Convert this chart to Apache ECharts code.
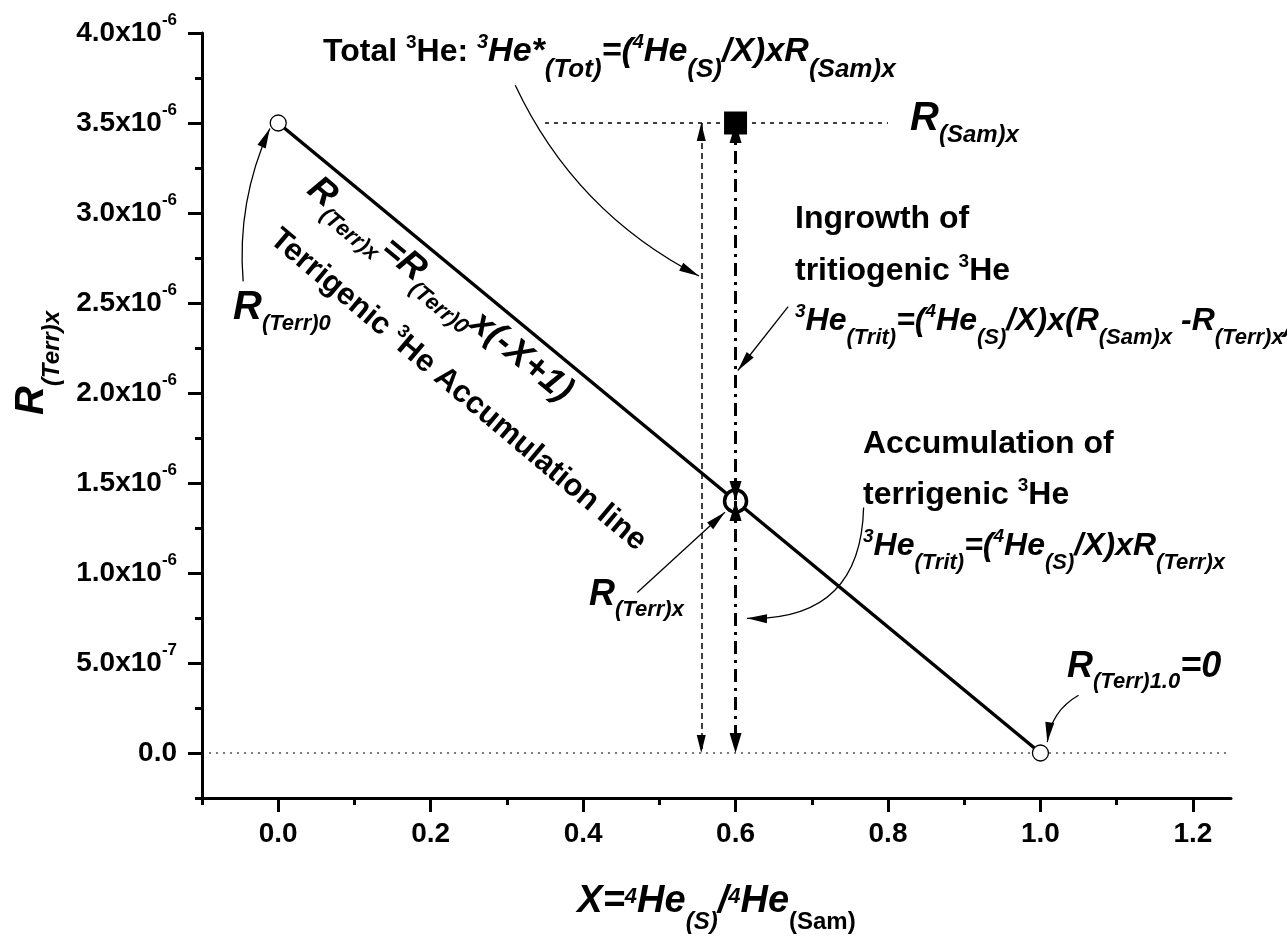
<!DOCTYPE html>
<html>
<head>
<meta charset="utf-8">
<script src="https://cdn.jsdelivr.net/npm/echarts@6/dist/echarts.min.js"></script>
<style>
html, body { margin: 0; padding: 0; background: #fff; }
#main { width: 1287px; height: 944px; }
</style>
</head>
<body>
<div id="main"></div>
<script>
// accumulation line R(Terr)x = R(Terr)0 x (-X+1)
var lineX = [0, 1];
var lineR = [3.5e-6, 0];
// sample point and the terrigenic value at the same X
var sampleX = [0.6];
var sampleR = [3.5e-6];
var terrR = [1.4e-6];
// total 3He guide line and the R(Sam)x dotted guide
var totalX = [0.555];
var guideX = [0.35, 0.8];
var baseX = [-0.1, 1.25];
// ticks
var xMajor = [0, 0.2, 0.4, 0.6, 0.8, 1.0, 1.2];
var xMinor = [-0.1, 0, 0.1, 0.2, 0.3, 0.4, 0.5, 0.6, 0.7, 0.8, 0.9, 1.0, 1.1, 1.2];
var yMajor = [0, 5e-7, 1e-6, 1.5e-6, 2e-6, 2.5e-6, 3e-6, 3.5e-6, 4e-6];
var yMinor = [-2.5e-7, 0, 2.5e-7, 5e-7, 7.5e-7, 1e-6, 1.25e-6, 1.5e-6, 1.75e-6, 2e-6,
              2.25e-6, 2.5e-6, 2.75e-6, 3e-6, 3.25e-6, 3.5e-6, 3.75e-6, 4e-6];

var chart = echarts.init(document.getElementById('main'));
var F = '"Liberation Sans", Arial, Helvetica, sans-serif';

function tok(size, italic, pad) {
    return {
        fontSize: size, fontWeight: 'bold', fontStyle: italic ? 'italic' : 'normal',
        fontFamily: F, color: '#000', fill: '#000', padding: pad || [0, 0, 0, 0]
    };
}

var rich = {
    b: tok(32), bsup: tok(19, false, [0, 0, 18, 0]),
    i: tok(32, true), isup: tok(19, true, [0, 0, 18, 0]), isub: tok(22, true, [34, 0, 0, 0]),
    T: tok(34, true), Tsup: tok(20, true, [0, 0, 19, 0]), Tsub: tok(26, true, [36, 0, 0, 0]),
    R: tok(40, true), Rsub: tok(22, true, [32, 0, 0, 0]), Ssub: tok(24, true, [33, 0, 0, 0]),
    r: tok(36, true), rsub: tok(22, true, [30, 0, 0, 0]),
    t: tok(31), tsup: tok(18, false, [0, 0, 18, 0])
};

// y tick labels like 4.0x10^-6
function fmtY(v) {
    if (Math.abs(v) < 1e-12) return '{m|0.0}';
    var e = Math.floor(Math.log10(Math.abs(v)) + 1e-9);
    var m = v / Math.pow(10, e);
    return '{m|' + m.toFixed(1) + 'x10}{s|' + e + '}';
}

var arrowHead = 'path://M5,0L10,20L0,20Z';
// same head, tip placed at the centre of its box (lines series has no symbolOffset)
var tipHead = 'path://M5,0L5,0.01M5,20L10,40L0,40Z';

function twoWay(from, to, style, size) {
    return [
        {coord: from, symbol: arrowHead, symbolSize: size, symbolOffset: [0, size[1] / 2], lineStyle: style},
        {coord: to, symbol: arrowHead, symbolSize: size, symbolOffset: [0, size[1] / 2]}
    ];
}

function pointer(from, to, curve) {
    return {coords: [from, to], lineStyle: {curveness: curve}};
}

var dashStyle = {type: [6, 4], width: 1.5, color: '#000'};
var dashDotStyle = {type: [13, 6, 3, 6], width: 3, color: '#000'};

function label(x, y, text, rot) {
    return {
        type: 'text', x: x, y: y, rotation: rot || 0, silent: true, z: 10,
        style: {
            text: text, rich: rich, align: 'left', verticalAlign: 'middle',
            fill: '#000', fontSize: 32, fontWeight: 'bold', fontFamily: F
        }
    };
}
function centered(x, y, text, rot) {
    var el = label(x, y, text, rot);
    el.style.align = 'center';
    return el;
}

var axisCommon = {
    type: 'value',
    splitLine: {show: false},
    nameMoveOverlap: false
};

var option = {
    animation: false,
    backgroundColor: '#fff',
    textStyle: {fontFamily: F},
    grid: {left: 202, right: 56, top: 33, bottom: 146, containLabel: false, outerBoundsMode: 'none'},
    xAxis: [
        Object.assign({}, axisCommon, {
            min: -0.1, max: 1.25, position: 'bottom',
            axisLine: {show: true, onZero: false, lineStyle: {color: '#000', width: 3}},
            axisTick: {show: true, length: 7, customValues: xMinor, lineStyle: {color: '#000', width: 3}},
            axisLabel: {
                customValues: xMajor, margin: 22, color: '#000', fontSize: 28, fontWeight: 'bold', fontFamily: F,
                formatter: function (v) { return v.toFixed(1); }
            },
            name: '{X|X=}{xs|4}{X|He}{xb|(S)}{X|/}{xs|4}{X|He}{xbn|(Sam)}',
            nameLocation: 'middle', nameGap: 72,
            nameTextStyle: {
                rich: {
                    X: tok(38, true), xs: tok(22, true, [0, 0, 11, 0]),
                    xb: tok(24, true, [40, 0, 0, 0]), xbn: tok(24, false, [40, 0, 0, 0])
                }
            }
        }),
        Object.assign({}, axisCommon, {
            min: -0.1, max: 1.25, position: 'bottom',
            axisLine: {show: false, onZero: false},
            axisTick: {show: true, length: 14, customValues: xMajor, lineStyle: {color: '#000', width: 3}},
            axisLabel: {show: false}
        })
    ],
    yAxis: [
        Object.assign({}, axisCommon, {
            min: -2.5e-7, max: 4e-6, position: 'left',
            axisLine: {show: true, onZero: false, lineStyle: {color: '#000', width: 3}},
            axisTick: {show: true, length: 7, customValues: yMinor, lineStyle: {color: '#000', width: 3}},
            axisLabel: {
                customValues: yMajor, margin: 25, formatter: fmtY,
                rich: {m: tok(28), s: tok(17, false, [0, 0, 25, 0])}
            },
            name: '{R|R}{Rs|(Terr)x}',
            nameLocation: 'middle', nameRotate: 90, nameGap: 138,
            nameTextStyle: {
                padding: [0, 0, 0, 105],
                rich: {R: tok(40, true), Rs: tok(24, true, [41, 0, 0, 0])}
            }
        }),
        Object.assign({}, axisCommon, {
            min: -2.5e-7, max: 4e-6, position: 'left',
            axisLine: {show: false, onZero: false},
            axisTick: {show: true, length: 14, customValues: yMajor, lineStyle: {color: '#000', width: 3}},
            axisLabel: {show: false}
        })
    ],
    series: [
        {
            type: 'line', name: 'zero', silent: true, symbol: 'none', z: 1,
            data: baseX.map(function (x) { return [x, 0]; }),
            lineStyle: {color: '#000', width: 1.2, type: [2, 5]}
        },
        {
            type: 'line', name: 'R(Sam)x', silent: true, symbol: 'none', z: 1,
            data: guideX.map(function (x) { return [x, sampleR[0]]; }),
            lineStyle: {color: '#000', width: 1.5, type: [4, 5]}
        },
        {
            type: 'line', name: 'accumulation', silent: true, z: 3,
            data: lineX.map(function (x, i) { return [x, lineR[i]]; }),
            lineStyle: {color: '#000', width: 3.5},
            symbol: 'circle', symbolSize: 16, showSymbol: true,
            itemStyle: {color: '#fff', borderColor: '#000', borderWidth: 1.3},
            markLine: {
                silent: true, z: 5, label: {show: false}, emphasis: {disabled: true},
                symbol: ['none', 'none'],
                data: [
                    twoWay([totalX[0], sampleR[0]], [totalX[0], 0], dashStyle, [9, 18]),
                    twoWay([sampleX[0], sampleR[0]], [sampleX[0], terrR[0]], dashDotStyle, [12, 20]),
                    twoWay([sampleX[0], terrR[0]], [sampleX[0], 0], dashDotStyle, [12, 20])
                ]
            }
        },
        {
            type: 'scatter', name: 'terrigenic', silent: true, z: 4,
            data: sampleX.map(function (x, i) { return [x, terrR[i]]; }),
            symbol: 'circle', symbolSize: 22,
            itemStyle: {color: '#fff', borderColor: '#000', borderWidth: 3.5, opacity: 1}
        },
        {
            type: 'scatter', name: 'sample', silent: true, z: 4,
            data: sampleX.map(function (x, i) { return [x, sampleR[i]]; }),
            symbol: 'rect', symbolSize: 23,
            itemStyle: {color: '#000', opacity: 1}
        },
        {
            // annotation pointers
            type: 'lines', coordinateSystem: 'cartesian2d', silent: true, z: 6,
            symbol: ['none', tipHead], symbolSize: [0, [9, 40]],
            lineStyle: {color: '#000', width: 1.3, opacity: 1},
            data: [
                pointer([0.311, 3.71e-6], [0.552, 2.65e-6], -0.17),
                pointer([-0.046, 2.62e-6], [-0.011, 3.47e-6], 0.13),
                pointer([0.471, 0.892e-6], [0.586, 1.337e-6], 0),
                pointer([0.669, 2.48e-6], [0.603, 2.125e-6], 0),
                pointer([0.768, 1.364e-6], [0.615, 0.748e-6], 0.5),
                pointer([1.05, 0.321e-6], [1.009, 0.06e-6], -0.25)
            ]
        }
    ],
    graphic: [
        label(323, 52, '{b|Total }{bsup|3}{b|He: }{Tsup|3}{T|He*}{Tsub|(Tot)}{T|=(}{Tsup|4}{T|He}{Tsub|(S)}{T|/X)xR}{Tsub|(Sam)x}'),
        label(910, 119, '{R|R}{Ssub|(Sam)x}'),
        label(795, 219, '{b|Ingrowth of}'),
        label(795, 271, '{b|tritiogenic }{bsup|3}{b|He}'),
        label(795, 321, '{isup|3}{i|He}{isub|(Trit)}{i|=(}{isup|4}{i|He}{isub|(S)}{i|/X)x(R}{isub|(Sam)x}{i| -R}{isub|(Terr)x}{i|)}'),
        label(863, 444, '{b|Accumulation of}'),
        label(863, 495, '{b|terrigenic }{bsup|3}{b|He}'),
        label(863, 546, '{isup|3}{i|He}{isub|(Trit)}{i|=(}{isup|4}{i|He}{isub|(S)}{i|/X)xR}{isub|(Terr)x}'),
        label(589, 595, '{r|R}{rsub|(Terr)x}'),
        label(233, 308, '{R|R}{Rsub|(Terr)0}'),
        label(1067, 667, '{r|R}{rsub|(Terr)1.0}{r|=0}'),
        centered(440, 290, '{r|R}{rsub|(Terr)x}{r|=R}{rsub|(Terr)0}{r|x(-X+1)}', -0.69),
        centered(458, 390, '{t|Terrigenic }{tsup|3}{t|He Accumulation line}', -0.70)
    ]
};

chart.setOption(option);
</script>
</body>
</html>
